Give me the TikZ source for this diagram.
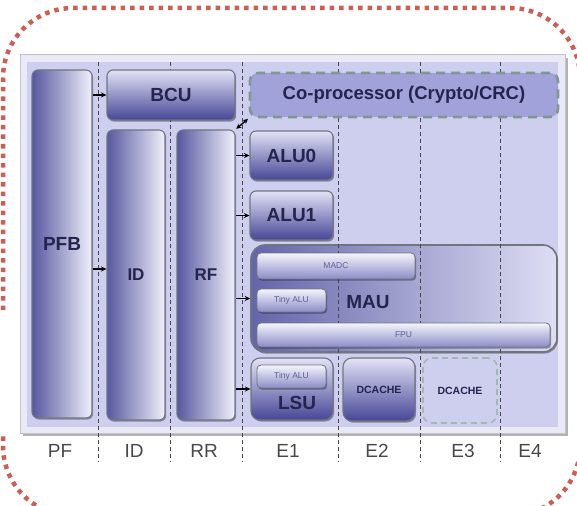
\documentclass[tikz,border=0pt]{standalone}
\usepackage{fontspec}
\setmainfont{Liberation Sans}
\usetikzlibrary{shadows,arrows.meta}
\definecolor{dotred}{RGB}{206,94,84}
\definecolor{panelfill}{RGB}{206,206,238}
\definecolor{panelframe}{RGB}{234,234,246}
\definecolor{paneledge}{RGB}{196,196,206}
\definecolor{edgegray}{RGB}{112,118,128}
\definecolor{navytext}{RGB}{36,36,78}
\definecolor{smalltext}{RGB}{95,95,150}
\definecolor{barL}{RGB}{88,88,160}
\definecolor{barM}{RGB}{170,170,218}
\definecolor{barR}{RGB}{240,240,252}
\definecolor{wideT}{RGB}{226,226,246}
\definecolor{wideM}{RGB}{145,145,205}
\definecolor{wideB}{RGB}{70,70,150}
\definecolor{thinT}{RGB}{245,245,252}
\definecolor{thinB}{RGB}{140,140,200}
\definecolor{copfill}{RGB}{162,162,218}
\definecolor{copedge}{RGB}{128,152,144}
\definecolor{stagegray}{RGB}{72,72,72}
\definecolor{mauL}{RGB}{100,100,170}
\definecolor{mauR}{RGB}{222,222,244}
\begin{document}
\begin{tikzpicture}[x=1pt,y=-1pt,
  blk/.style={draw=edgegray, line width=1.1pt, rounded corners=6pt, inner sep=0pt,
    drop shadow={shadow xshift=1.2pt,shadow yshift=-1.6pt,opacity=0.35,fill=black},
    text=navytext, font=\fontsize{19}{19}\selectfont\bfseries},
  tallbar/.style={blk, left color=barL, middle color=barM, right color=barR},
  widebar/.style={blk, top color=wideT, middle color=wideM, bottom color=wideB},
  thinbar/.style={blk, rounded corners=4pt, line width=0.8pt, top color=thinT, bottom color=thinB,
    text=smalltext, font=\fontsize{8.5}{8.5}\selectfont},
  lbl/.style={inner sep=0pt, text=navytext, font=\fontsize{19}{19}\selectfont\bfseries},
  stagelbl/.style={inner sep=0pt, text=stagegray, font=\fontsize{19}{19}\selectfont},
  stageline/.style={draw=stagegray, line width=0.8pt, dash pattern=on 4pt off 3pt},
  arr/.style={-{Stealth[length=5.5pt,width=5pt]}, line width=1.2pt, black},
  dblarr/.style={{Stealth[length=5pt,width=5pt]}-{Stealth[length=5pt,width=5pt]}, line width=1.4pt, black, shorten <=1pt, shorten >=1pt},
  dotframe/.style={draw=dotred, line width=4.5pt, dash pattern=on 4.5pt off 5pt, rounded corners=70pt}
]
\useasboundingbox (0,0) rectangle (577,505);
\clip (0,0) rectangle (577,505);
% dotted outer frame
\draw[dotframe] (3,310) -- (3,8) -- (580,8) -- (580,516) -- (3,516) -- (3,433);
% panel
\draw[draw=paneledge, line width=1pt, fill=panelframe,
  drop shadow={shadow xshift=2.5pt,shadow yshift=-3pt,opacity=0.3,fill=black}] (20,55) rectangle (565,433);
\fill[panelfill] (27,62) rectangle (558,427);
% MAU body (behind stage lines)
\node[blk, rounded corners=14pt, line width=1.6pt, left color=mauL, right color=mauR,
  minimum width=306pt, minimum height=107pt] (MAU) at (404,298.5) {};
% stage separators
\foreach \sx in {98,170,242,338,420,500} \draw[stageline] (\sx,62) -- (\sx,462);
% blocks
\node[tallbar, minimum width=60pt, minimum height=348pt] (PFB) at (62,244) {PFB};
\node[widebar, minimum width=128pt, minimum height=50pt] (BCU) at (171,95) {BCU};
\node[tallbar, minimum width=58pt, minimum height=290pt, font=\fontsize{17}{17}\selectfont\bfseries] (ID) at (136,275) {ID};
\node[tallbar, minimum width=58pt, minimum height=290pt, font=\fontsize{17}{17}\selectfont\bfseries] (RF) at (206,275) {RF};
\node[draw=copedge, line width=2.6pt, dash pattern=on 9pt off 6pt, rounded corners=8pt, fill=copfill,
  inner sep=0pt, minimum width=308pt, minimum height=44pt, text=navytext,
  font=\fontsize{18.5}{18.5}\selectfont\bfseries] (coproc) at (404,95) {Co-processor (Crypto/CRC)};
\node[widebar, minimum width=83pt, minimum height=49pt] (ALU0) at (291.5,155.5) {ALU0};
\node[widebar, minimum width=83pt, minimum height=49pt] (ALU1) at (291.5,215.5) {ALU1};
\node[thinbar, minimum width=158pt, minimum height=26pt] (MADC) at (336,266) {MADC};
\node[thinbar, minimum width=69pt, minimum height=23pt] (tinyA) at (291.5,300.5) {Tiny ALU};
\node[thinbar, minimum width=293pt, minimum height=24pt] (FPU) at (403.5,335) {FPU};
\node[lbl] (MAUlbl) at (368,302) {MAU};
\node[widebar, rounded corners=9pt, minimum width=82pt, minimum height=62pt] (LSU) at (292,389) {};
\node[thinbar, minimum width=69pt, minimum height=23pt] (tinyB) at (291.5,376.5) {Tiny ALU};
\node[lbl] (LSUlbl) at (297,403) {LSU};
\node[widebar, rounded corners=9pt, minimum width=72pt, minimum height=63pt,
  font=\fontsize{10.5}{10.5}\selectfont\bfseries] (DC1) at (379,389.5) {DCACHE};
\node[draw=copedge!70, line width=1.6pt, dash pattern=on 6pt off 4pt, rounded corners=9pt,
  inner sep=0pt, minimum width=74pt, minimum height=65pt, text=navytext,
  font=\fontsize{10.5}{10.5}\selectfont\bfseries] (DC2) at (460,390.5) {DCACHE};
% stage labels
\node[stagelbl] (sPF) at (60,451) {PF};
\node[stagelbl] (sID) at (134,451) {ID};
\node[stagelbl] (sRR) at (204,451) {RR};
\node[stagelbl] (sE1) at (288,451) {E1};
\node[stagelbl] (sE2) at (377,451) {E2};
\node[stagelbl] (sE3) at (463,451) {E3};
\node[stagelbl] (sE4) at (530,451) {E4};
% arrows
\draw[arr] (PFB.east |- BCU.west) -- (BCU.west);
\draw[arr] (PFB.east |- 0,269) -- (ID.west |- 0,269);
\draw[arr] (RF.east |- ALU0.west) -- (ALU0.west);
\draw[arr] (RF.east |- ALU1.west) -- (ALU1.west);
\draw[arr] (RF.east |- MAU.west) -- (MAU.west);
\draw[arr] (RF.east |- LSU.west) -- (LSU.west);
\draw[dblarr] (RF.north east) -- (coproc.south west);
\end{tikzpicture}
\end{document}
